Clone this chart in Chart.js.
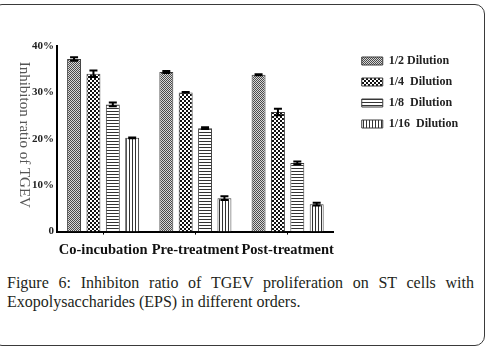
<!DOCTYPE html>
<html>
<head>
<meta charset="utf-8">
<script src="https://cdn.jsdelivr.net/npm/chart.js@4"></script>
<style>
    body { margin: 0; background: #fff; width: 487px; height: 352px; overflow: hidden; position: relative; }
    #frame { position: absolute; left: -8px; top: 4px; width: 491px; height: 340px; border: 1px solid #3a3a3a; border-radius: 10px; }
    #chartBox { position: absolute; left: 0; top: 0; width: 487px; height: 266px; }
    #caption {
        position: absolute; left: 7px; top: 273px; width: 467px;
        font-family: "Liberation Serif", "DejaVu Serif", serif; font-size: 16px; line-height: 19px;
        color: #231f20; text-align: justify; text-align-last: left;
    }
</style>
</head>
<body>
<div id="frame"></div>
<div id="chartBox"><canvas id="bar-chart" width="487" height="266"></canvas></div>
<div id="caption">Figure 6: Inhibiton ratio of TGEV proliferation on ST cells with Exopolysaccharides (EPS) in different orders.</div>
<script>
const categories = ['Co-incubation', 'Pre-treatment', 'Post-treatment'];
const seriesNames = ['1/2 Dilution', '1/4  Dilution', '1/8  Dilution', '1/16  Dilution'];
const yTicks = [0, 10, 20, 30, 40];

// inhibition ratio (%)
const dilution2 = [37.2, 34.4, 33.8];
const dilution4 = [34.0, 30.0, 25.8];
const dilution8 = [27.4, 22.3, 14.8];
const dilution16 = [20.2, 7.2, 5.9];

// error bar half-lengths (%)
const err2 = [0.4, 0.2, 0.1];
const err4 = [0.7, 0.1, 0.7];
const err8 = [0.4, 0.2, 0.3];
const err16 = [0.1, 0.4, 0.3];

const serif = '"Liberation Serif", "DejaVu Serif", serif';

// small hatch tiles for the bar fills
function makePattern(kind) {
    const c = document.createElement('canvas');
    const ctx = c.getContext('2d');
    if (kind === 'fine') {
        c.width = 2; c.height = 2;
        ctx.fillStyle = '#d8d8d8'; ctx.fillRect(0, 0, 2, 2);
        ctx.fillStyle = '#4a4a4a'; ctx.fillRect(0, 0, 1, 1); ctx.fillRect(1, 1, 1, 1);
    } else if (kind === 'checker') {
        c.width = 4; c.height = 4;
        ctx.fillStyle = '#fff'; ctx.fillRect(0, 0, 4, 4);
        ctx.fillStyle = '#111'; ctx.fillRect(0, 0, 2, 2); ctx.fillRect(2, 2, 2, 2);
    } else if (kind === 'horiz') {
        c.width = 3; c.height = 3;
        ctx.fillStyle = '#fff'; ctx.fillRect(0, 0, 3, 3);
        ctx.fillStyle = '#333'; ctx.fillRect(0, 0, 3, 1);
    } else {
        c.width = 3; c.height = 3;
        ctx.fillStyle = '#fff'; ctx.fillRect(0, 0, 3, 3);
        ctx.fillStyle = '#333'; ctx.fillRect(0, 0, 1, 3);
    }
    return ctx.createPattern(c, 'repeat');
}

const valueSets = [dilution2, dilution4, dilution8, dilution16];
const errorSets = [err2, err4, err8, err16];
const fills = ['fine', 'checker', 'horiz', 'vert'].map(makePattern);

const datasets = valueSets.map((vals, i) => ({
    label: seriesNames[i],
    data: vals,
    errors: errorSets[i],
    backgroundColor: fills[i],
    borderColor: '#3c3c3c',
    borderWidth: 1,
    borderSkipped: 'bottom',
    categoryPercentage: 0.84,
    barPercentage: 0.72
}));

// error bars drawn from scale positions
const errorBars = {
    id: 'errorBars',
    afterDatasetsDraw(chart) {
        const ctx = chart.ctx;
        const y = chart.scales.y;
        ctx.save();
        ctx.strokeStyle = '#000';
        chart.data.datasets.forEach((ds, i) => {
            chart.getDatasetMeta(i).data.forEach((bar, j) => {
                const top = y.getPixelForValue(ds.data[j] + ds.errors[j]);
                const bot = y.getPixelForValue(ds.data[j] - ds.errors[j]);
                ctx.lineWidth = 2;
                ctx.beginPath();
                ctx.moveTo(bar.x, top); ctx.lineTo(bar.x, bot);
                ctx.moveTo(bar.x - 4, top); ctx.lineTo(bar.x + 4, top);
                ctx.moveTo(bar.x - 4, bot); ctx.lineTo(bar.x + 4, bot);
                ctx.stroke();
            });
        });
        ctx.restore();
    }
};

// vertical axis title reading top to bottom
const yTitle = {
    id: 'yTitle',
    afterDraw(chart) {
        const ctx = chart.ctx;
        const a = chart.chartArea;
        ctx.save();
        ctx.translate(a.left - 33, (a.top + a.bottom) / 2 - 4);
        ctx.rotate(Math.PI / 2);
        ctx.font = '15px ' + serif;
        ctx.fillStyle = '#555';
        ctx.textAlign = 'center';
        ctx.textBaseline = 'middle';
        ctx.fillText('Inhibiton ratio of TGEV', 0, 0);
        ctx.restore();
    }
};

// push the legend a little away from the plot
const legendShift = {
    id: 'legendShift',
    afterLayout(chart) {
        if (chart.legend) {
            chart.legend.left += 19;
            chart.legend.right += 19;
        }
    }
};

new Chart(document.getElementById('bar-chart'), {
    type: 'bar',
    data: { labels: categories, datasets: datasets },
    options: {
        responsive: false,
        animation: false,
        layout: { padding: { top: 46, left: 0, right: 42, bottom: 0 } },
        plugins: {
            tooltip: { enabled: false },
            legend: {
                position: 'right',
                align: 'start',
                labels: {
                    boxWidth: 21,
                    boxHeight: 8,
                    padding: 9,
                    color: '#222',
                    font: { family: serif, size: 12, weight: 'bold' }
                }
            }
        },
        scales: {
            x: {
                grid: { display: true, drawOnChartArea: false, drawTicks: true, tickLength: 3, tickColor: '#000', tickWidth: 1, offset: false },
                border: { color: '#000', width: 2 },
                ticks: {
                    color: '#111', padding: 7, maxRotation: 0, minRotation: 0, autoSkip: false,
                    font: { family: serif, size: 14.5, weight: 'bold' }
                }
            },
            y: {
                min: 0,
                max: 40,
                afterBuildTicks(scale) { scale.ticks = yTicks.map(v => ({ value: v })); },
                grid: { display: false, drawTicks: false },
                border: { color: '#000', width: 2 },
                ticks: {
                    color: '#222',
                    padding: 3,
                    font: { family: serif, size: 11, weight: 'bold' },
                    callback: v => v === 0 ? '0' : v + '%'
                },
                afterFit(scale) { scale.width = 57; }
            }
        }
    },
    plugins: [errorBars, yTitle, legendShift]
});
</script>
</body>
</html>
